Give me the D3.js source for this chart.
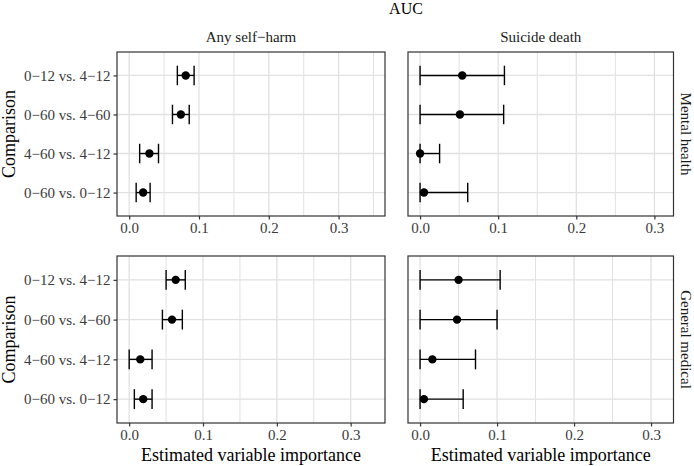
<!DOCTYPE html>
<html>
<head>
<meta charset="utf-8" />
<title>AUC variable importance</title>
<script src="https://cdn.jsdelivr.net/npm/d3@7"></script>
<style>
  body { margin: 0; background: #fff; }
  text { font-family: "Liberation Serif", "Times New Roman", serif; }
</style>
</head>
<body>
<div id="chart"></div>
<script>
// Categories
var comparisons = ["0\u221212 vs. 4\u221212", "0\u221260 vs. 4\u221260", "4\u221260 vs. 4\u221212", "0\u221260 vs. 0\u221212"];
var outcomes = ["Any self\u2212harm", "Suicide death"];
var models = ["Mental health", "General medical"];
var tickValues = [0.0, 0.1, 0.2, 0.3];
var tickLabels = ["0.0", "0.1", "0.2", "0.3"];

// Mental health, any self-harm
var mhHarmEst = [0.081, 0.074, 0.029, 0.020];
var mhHarmLo  = [0.069, 0.062, 0.015, 0.010];
var mhHarmHi  = [0.093, 0.086, 0.042, 0.030];
// Mental health, suicide death
var mhDeathEst = [0.054, 0.051, 0.000, 0.005];
var mhDeathLo  = [0.000, 0.000, 0.000, 0.000];
var mhDeathHi  = [0.108, 0.107, 0.025, 0.061];
// General medical, any self-harm
var gmHarmEst = [0.063, 0.058, 0.015, 0.019];
var gmHarmLo  = [0.050, 0.045, 0.000, 0.007];
var gmHarmHi  = [0.076, 0.072, 0.031, 0.031];
// General medical, suicide death
var gmDeathEst = [0.050, 0.048, 0.016, 0.005];
var gmDeathLo  = [0.000, 0.000, 0.000, 0.000];
var gmDeathHi  = [0.104, 0.100, 0.072, 0.056];

// upper data limit of each panel's x scale (row, column)
var xMax = [[0.349, 0.309], [0.330, 0.3135]];

var W = 694, H = 466;
var colX = [[117, 385], [408, 673.5]];
var rowY = [[52, 216], [256, 423]];

var svg = d3.select("#chart").append("svg")
	.attr("width", W).attr("height", H);

svg.append("text")
	.attr("x", 406).attr("y", 14)
	.attr("text-anchor", "middle")
	.style("font-size", "16px")
	.text("AUC");

var panels = [
	[{est: mhHarmEst, lo: mhHarmLo, hi: mhHarmHi}, {est: mhDeathEst, lo: mhDeathLo, hi: mhDeathHi}],
	[{est: gmHarmEst, lo: gmHarmLo, hi: gmHarmHi}, {est: gmDeathEst, lo: gmDeathLo, hi: gmDeathHi}]
];

var gridColor = "#e1e1e1", inkColor = "#333333";

panels.forEach(function(row, r) {
	row.forEach(function(p, c) {
		var x0 = colX[c][0], x1 = colX[c][1], y0 = rowY[r][0], y1 = rowY[r][1];
		var pad = xMax[r][c] * 0.05;
		var x = d3.scaleLinear().domain([-pad, xMax[r][c] + pad]).range([x0, x1]);
		var y = d3.scalePoint().domain(comparisons).range([y0, y1]).padding(0.6);
		var step = y.step();
		var g = svg.append("g");

		// grid lines: minor then major
		var minor = d3.range(0.05, xMax[r][c] + pad, 0.1);
		g.selectAll(".minor").data(minor).enter().append("line")
			.attr("x1", function(d) { return x(d); }).attr("x2", function(d) { return x(d); })
			.attr("y1", y0).attr("y2", y1)
			.attr("stroke", gridColor).attr("stroke-width", 1);
		g.selectAll(".major").data(tickValues).enter().append("line")
			.attr("x1", function(d) { return x(d); }).attr("x2", function(d) { return x(d); })
			.attr("y1", y0).attr("y2", y1)
			.attr("stroke", gridColor).attr("stroke-width", 1.3);
		g.selectAll(".hgrid").data(comparisons).enter().append("line")
			.attr("x1", x0).attr("x2", x1)
			.attr("y1", function(d) { return y(d); }).attr("y2", function(d) { return y(d); })
			.attr("stroke", gridColor).attr("stroke-width", 1.3);

		// error bars
		var idx = d3.range(comparisons.length);
		g.selectAll(".bar").data(idx).enter().append("line")
			.attr("x1", function(i) { return x(p.lo[i]); }).attr("x2", function(i) { return x(p.hi[i]); })
			.attr("y1", function(i) { return y(comparisons[i]); }).attr("y2", function(i) { return y(comparisons[i]); })
			.attr("stroke", "#000").attr("stroke-width", 1.4);
		["lo", "hi"].forEach(function(k) {
			g.selectAll(".cap" + k).data(idx).enter().append("line")
				.attr("x1", function(i) { return x(p[k][i]); }).attr("x2", function(i) { return x(p[k][i]); })
				.attr("y1", function(i) { return y(comparisons[i]) - step * 0.25; })
				.attr("y2", function(i) { return y(comparisons[i]) + step * 0.25; })
				.attr("stroke", "#000").attr("stroke-width", 1.4);
		});
		g.selectAll(".pt").data(idx).enter().append("circle")
			.attr("cx", function(i) { return x(p.est[i]); })
			.attr("cy", function(i) { return y(comparisons[i]); })
			.attr("r", 4.2).attr("fill", "#000");

		// panel border
		g.append("rect")
			.attr("x", x0).attr("y", y0).attr("width", x1 - x0).attr("height", y1 - y0)
			.attr("fill", "none").attr("stroke", inkColor).attr("stroke-width", 1.2);

		// x axis
		var xAxis = g.append("g").attr("transform", "translate(0," + y1 + ")")
			.call(d3.axisBottom(x).tickValues(tickValues).tickSize(3.5).tickPadding(3)
				.tickFormat(function(d, i) { return tickLabels[i]; }));
		xAxis.select(".domain").remove();
		xAxis.selectAll("line").attr("stroke", inkColor).attr("stroke-width", 1.2);
		xAxis.selectAll("text").attr("fill", "#3a3a3a")
			.style("font-size", "15px").style("font-family", "'Liberation Serif', serif");

		// y axis (left column only)
		var yAxis = g.append("g").attr("transform", "translate(" + x0 + ",0)")
			.call(d3.axisLeft(y).tickSize(c === 0 ? 3.5 : 0).tickPadding(3));
		yAxis.select(".domain").remove();
		yAxis.selectAll("line").attr("stroke", inkColor).attr("stroke-width", 1.2);
		if (c === 0) {
			yAxis.selectAll("text").attr("fill", "#3a3a3a")
				.style("font-size", "15px").style("font-family", "'Liberation Serif', serif");
			svg.append("text")
				.attr("transform", "translate(15," + ((y0 + y1) / 2) + ") rotate(-90)")
				.attr("text-anchor", "middle")
				.style("font-size", "18px")
				.text("Comparison");
		} else {
			yAxis.selectAll("text").remove();
			svg.append("text")
				.attr("transform", "translate(681," + ((y0 + y1) / 2) + ") rotate(90)")
				.attr("text-anchor", "middle")
				.style("font-size", "15px")
				.attr("fill", "#1a1a1a")
				.text(models[r]);
		}

		if (r === 0) {
			svg.append("text")
				.attr("x", (x0 + x1) / 2).attr("y", 42)
				.attr("text-anchor", "middle")
				.style("font-size", "15px")
				.attr("fill", "#1a1a1a")
				.text(outcomes[c]);
		} else {
			svg.append("text")
				.attr("x", (x0 + x1) / 2).attr("y", 461)
				.attr("text-anchor", "middle")
				.style("font-size", "18px")
				.text("Estimated variable importance");
		}
	});
});
</script>
</body>
</html>
